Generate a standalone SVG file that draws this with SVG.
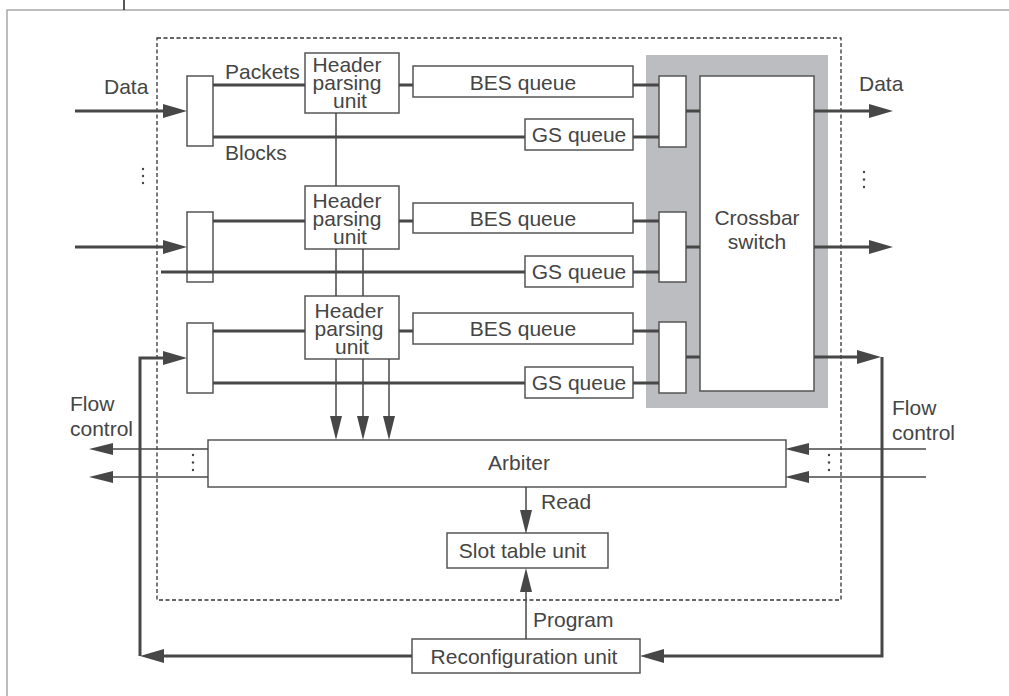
<svg xmlns="http://www.w3.org/2000/svg" width="1009" height="696" viewBox="0 0 1009 696">
<defs>
<style>
text{font-family:"Liberation Sans",Arial,sans-serif;font-size:21px;fill:#454545}
.m{text-anchor:middle}
.box{fill:#fff;stroke:#555;stroke-width:1.5}
.thick{fill:none;stroke:#474747;stroke-width:3}
.thin{fill:none;stroke:#474747;stroke-width:1.5}
</style>
<marker id="ah" viewBox="0 -7 24 14" refX="0" refY="0" markerWidth="24" markerHeight="14" markerUnits="userSpaceOnUse" orient="auto"><path d="M0,-7 L24,0 L0,7 Z" fill="#474747"/></marker>
<marker id="at" viewBox="0 -6 24 12" refX="0" refY="0" markerWidth="24" markerHeight="12" markerUnits="userSpaceOnUse" orient="auto"><path d="M0,-6 L24,0 L0,6 Z" fill="#474747"/></marker>
</defs>
<rect width="1009" height="696" fill="#fff"/>
<g id="frame">
<path d="M7,696 V10 H1009" fill="none" stroke="#a8a8a8" stroke-width="1.5"/>
<path d="M124,0 V10" stroke="#222" stroke-width="1.5"/>
</g>
<g id="boundary">
<rect x="157" y="38" width="684" height="562" fill="none" stroke="#333" stroke-width="1.3" stroke-dasharray="4 2.5"/>
</g>
<g id="crossbar-area">
<rect x="646" y="55" width="182" height="353" fill="#bcbdc0"/>
</g>
<g id="crossbar">
<rect class="box" x="700" y="76" width="114" height="315"/>
<text class="m" x="757" y="225">Crossbar</text>
<text class="m" x="757" y="249">switch</text>
</g>
<g id="in-mux-1"><rect class="box" x="187" y="76" width="26" height="70"/></g>
<g id="in-mux-2"><rect class="box" x="187" y="212" width="26" height="70"/></g>
<g id="in-mux-3"><rect class="box" x="187" y="323" width="26" height="70"/></g>
<g id="out-mux-1"><rect class="box" x="659" y="76" width="27" height="71"/></g>
<g id="out-mux-2"><rect class="box" x="659" y="212" width="27" height="70"/></g>
<g id="out-mux-3"><rect class="box" x="659" y="322" width="27" height="71"/></g>
<g id="hpu-1">
<rect class="box" x="305" y="53" width="94" height="60"/>
<text class="m" x="347" y="72">Header</text>
<text class="m" x="347" y="90">parsing</text>
<text class="m" x="350" y="108">unit</text>
</g>
<g id="hpu-2">
<rect class="box" x="305" y="186" width="94" height="63"/>
<text class="m" x="347" y="208">Header</text>
<text class="m" x="347" y="226">parsing</text>
<text class="m" x="350" y="244">unit</text>
</g>
<g id="hpu-3">
<rect class="box" x="305" y="296" width="94" height="63"/>
<text class="m" x="349" y="318">Header</text>
<text class="m" x="349" y="336">parsing</text>
<text class="m" x="352" y="354">unit</text>
</g>
<g id="bes-1"><rect class="box" x="413" y="66" width="220" height="31"/><text class="m" x="523" y="90">BES queue</text></g>
<g id="gs-1"><rect class="box" x="525" y="119" width="108" height="31"/><text class="m" x="579" y="142">GS queue</text></g>
<g id="bes-2"><rect class="box" x="413" y="203" width="220" height="30"/><text class="m" x="523" y="226">BES queue</text></g>
<g id="gs-2"><rect class="box" x="525" y="256" width="108" height="31"/><text class="m" x="579" y="279">GS queue</text></g>
<g id="bes-3"><rect class="box" x="413" y="313" width="220" height="31"/><text class="m" x="523" y="336">BES queue</text></g>
<g id="gs-3"><rect class="box" x="525" y="367" width="108" height="31"/><text class="m" x="579" y="390">GS queue</text></g>
<g id="arbiter"><rect class="box" x="208" y="440" width="578" height="47"/><text class="m" x="519" y="470">Arbiter</text></g>
<g id="slot-table"><rect class="box" x="447" y="533" width="161" height="35"/><text class="m" x="522.5" y="558">Slot table unit</text></g>
<g id="reconfig"><rect class="box" x="412" y="639" width="228" height="34"/><text class="m" x="524" y="664">Reconfiguration unit</text></g>
<g id="connectors">
<path class="thick" d="M75,111 H163" marker-end="url(#ah)"/>
<path class="thick" d="M75,247 H163" marker-end="url(#ah)"/>
<path class="thick" d="M213,85 H305 M213,137 H525 M399,85 H413 M633,85 H659 M633,137 H659 M686,111 H700"/>
<path class="thick" d="M213,221 H305 M161,272 H525 M399,221 H413 M633,221 H659 M633,272 H659 M686,247 H700"/>
<path class="thick" d="M213,331 H305 M213,383 H525 M399,331 H413 M633,331 H659 M633,383 H659 M686,357 H700"/>
<path class="thick" d="M814,111 H869" marker-end="url(#ah)"/>
<path class="thick" d="M814,247 H869" marker-end="url(#ah)"/>
<path class="thick" d="M814,357 H857" marker-end="url(#ah)"/>
<path class="thick" d="M882,357 V656 H664" marker-end="url(#ah)"/>
<path class="thick" d="M412,656 H164" marker-end="url(#ah)"/>
<path class="thick" d="M140,656 V358 H163" marker-end="url(#ah)"/>
<path class="thin" d="M336,113 V186 M336,249 V296 M363,249 V296"/>
<path class="thin" d="M336,359 V416" marker-end="url(#at)"/>
<path class="thin" d="M363,359 V416" marker-end="url(#at)"/>
<path class="thin" d="M389,359 V416" marker-end="url(#at)"/>
<path class="thin" d="M526,487 V510" marker-end="url(#at)"/>
<path class="thin" d="M526,639 V592" marker-end="url(#at)"/>
<path class="thin" d="M208,449 H113" marker-end="url(#at)"/>
<path class="thin" d="M208,477 H113" marker-end="url(#at)"/>
<path class="thin" d="M926,449 H809" marker-end="url(#at)"/>
<path class="thin" d="M926,477 H809" marker-end="url(#at)"/>
</g>
<g id="dots" fill="#454545">
<circle cx="143" cy="169" r="1.2"/><circle cx="143" cy="176" r="1.2"/><circle cx="143" cy="183" r="1.2"/>
<circle cx="864" cy="172" r="1.2"/><circle cx="864" cy="179.5" r="1.2"/><circle cx="864" cy="187" r="1.2"/>
<circle cx="193" cy="455" r="1.2"/><circle cx="193" cy="462.5" r="1.2"/><circle cx="193" cy="470" r="1.2"/>
<circle cx="829" cy="455" r="1.2"/><circle cx="829" cy="462.5" r="1.2"/><circle cx="829" cy="470" r="1.2"/>
</g>
<g id="labels">
<text x="104" y="94">Data</text>
<text x="859" y="91">Data</text>
<text x="225" y="79">Packets</text>
<text x="225" y="160">Blocks</text>
<text x="70" y="411">Flow</text>
<text x="70" y="436">control</text>
<text x="892" y="415">Flow</text>
<text x="892" y="440">control</text>
<text x="541" y="509">Read</text>
<text x="533" y="627">Program</text>
</g>
</svg>
